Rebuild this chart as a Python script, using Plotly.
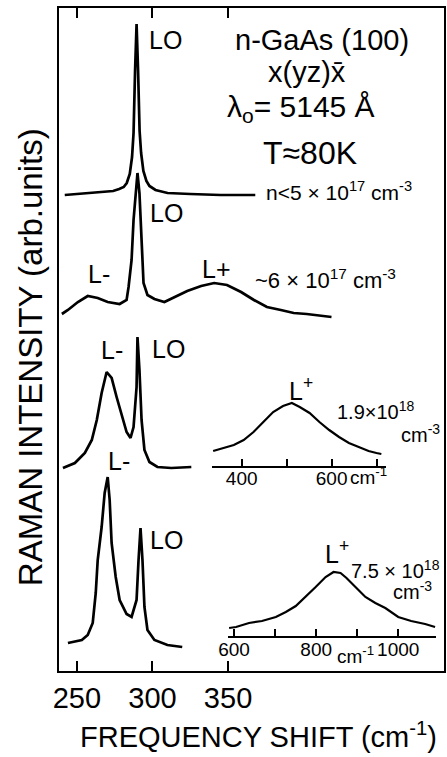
import plotly.graph_objects as go

# ---------------- data ----------------
# main axis: frequency shift (cm^-1); intensity in arbitrary units (offset stacked)
s1_x = [242, 250, 260, 268, 274, 278, 281, 283, 285, 286.5, 287.5, 288.5, 289.5,
        290.5, 291.5, 292.5, 294, 296, 298, 302, 310, 325, 345, 368]
s1_y = [476, 477, 478, 479, 480, 482, 484, 488, 497, 514, 538, 600, 647,
        600, 540, 518, 500, 490, 485, 481, 478, 477, 476, 476]

s2_x = [240.1, 244.1, 250.7, 257.2, 263.8, 270.4, 278.3, 282.9, 284.2, 286.2, 287.5,
        289.5, 290.1, 291.4, 292.8, 294.1, 296.7, 301.3, 307.9, 314.5, 323.0, 332.2,
        340.8, 349.3, 358.6, 367.1, 375.7, 384.9, 393.4, 402.0, 418.4]
s2_y = [357, 361, 369, 375, 373, 369, 367, 371, 384, 411, 451,
        491, 498, 478, 428, 388, 376, 372, 369, 374, 380, 385,
        388, 386, 379, 371, 364, 361, 358, 357, 354]

s3_x = [240.8, 248.7, 255.3, 259.9, 263.2, 266.4, 269.7, 273.0, 276.3, 279.6, 282.9,
        285.5, 287.5, 289.5, 290.1, 291.4, 292.8, 294.7, 298.0, 303.3, 312.5, 325.7]
s3_y = [203, 208, 218, 231, 251, 278, 299, 293, 274, 256, 239,
        233, 244, 284, 334, 301, 251, 221, 209, 204, 203, 204]

s4_x = [244.1, 253.3, 257.2, 260.5, 262.5, 263.8, 266.4, 268.4, 270.4, 271.7, 273.0,
        275.7, 278.3, 282.9, 286.2, 289.5, 290.8, 292.1, 293.4, 294.7, 296.7, 301.3,
        309.9, 319.7]
s4_y = [28, 31, 36, 48, 78, 111, 144, 178, 194, 171, 128,
        94, 71, 57, 54, 71, 111, 143, 111, 64, 41, 31,
        26, 24]

# inset for 1.9e18 cm^-3 (L+ band)
i1_x = [336.5, 360.6, 382.5, 404.4, 426.3, 448.1, 470.0, 491.9, 511.6, 529.1, 551.0,
        572.9, 594.7, 616.6, 638.5, 660.4, 682.3, 699.8, 710.7]
i1_y = [220, 223, 226, 231, 239, 249, 259, 265, 268, 264, 258,
        249, 241, 234, 228, 224, 220, 218, 217]

# inset for 7.5e18 cm^-3 (L+ band)
i2_x = [587.9, 604.8, 636.4, 667.9, 701.8, 726.1, 750.3, 774.5, 798.8, 823.0, 842.4,
        859.4, 873.9, 895.8, 920.0, 944.2, 968.5, 1000, 1031.5, 1065.5, 1089.7]
i2_y = [43, 44, 48, 50, 54, 59, 65, 74, 84, 94, 99,
        98, 93, 84, 74, 68, 63, 54, 50, 47, 44]

main_ticks = [250, 300, 350]
main_ticktext = ["250", "300", "350"]
i1_ticks = [400, 500, 600, 700]
i1_ticktext = ["400", "", "600", ""]
i2_ticks = [600, 700, 800, 900, 1000]
i2_ticktext = ["600", "", "800", "", "1000"]

# ---------------- layout helpers ----------------
W, H = 447, 757
L, R, T, B = 59, 1, 8, 86
PW, PH = W - L - R, H - T - B
FONT = "Liberation Sans, Arial, sans-serif"


def px(x):
    return (x - L) / PW


def py(y):
    return (H - B - y) / PH


line = dict(color="black", width=2.7)
fig = go.Figure()
for xs, ys in [(s1_x, s1_y), (s2_x, s2_y), (s3_x, s3_y), (s4_x, s4_y)]:
    fig.add_trace(go.Scatter(x=xs, y=ys, mode="lines", line=line,
                             xaxis="x", yaxis="y", showlegend=False, hoverinfo="skip"))
fig.add_trace(go.Scatter(x=i1_x, y=i1_y, mode="lines", line=dict(color="black", width=2.2),
                         xaxis="x2", yaxis="y", showlegend=False, hoverinfo="skip"))
fig.add_trace(go.Scatter(x=i2_x, y=i2_y, mode="lines", line=dict(color="black", width=2.2),
                         xaxis="x3", yaxis="y", showlegend=False, hoverinfo="skip"))

fig.update_layout(
    width=W, height=H,
    margin=dict(l=L, r=R, t=T, b=B, pad=0),
    paper_bgcolor="white", plot_bgcolor="rgba(0,0,0,0)",
    font=dict(family=FONT, color="black"),
    xaxis=dict(range=[238.2, 492.8], domain=[0, 1], showgrid=False, zeroline=False,
               showline=True, linecolor="black", linewidth=2, mirror="ticks",
               ticks="inside", ticklen=10, tickwidth=1.6, tickcolor="black",
               tickvals=main_ticks, ticktext=main_ticktext,
               tickfont=dict(size=29, family=FONT)),
    yaxis=dict(range=[0, 663], domain=[0, 1], showgrid=False, zeroline=False,
               showline=True, linecolor="black", linewidth=2, mirror=True,
               ticks="", showticklabels=False),
    xaxis2=dict(range=[334.4, 721.7], domain=[px(213), px(388)], anchor="free",
                position=py(467), showgrid=False, zeroline=False,
                showline=True, linecolor="black", linewidth=1.6,
                ticks="inside", ticklen=7, tickwidth=1.5, tickcolor="black",
                tickvals=i1_ticks, ticktext=i1_ticktext, ticklabelstandoff=-6,
                tickfont=dict(size=19, family=FONT)),
    xaxis3=dict(range=[585.5, 1092.1], domain=[px(229), px(438)], anchor="free",
                position=py(637), showgrid=False, zeroline=False,
                showline=True, linecolor="black", linewidth=1.6,
                ticks="inside", ticklen=7, tickwidth=1.5, tickcolor="black",
                tickvals=i2_ticks, ticktext=i2_ticktext, ticklabelstandoff=-5,
                tickfont=dict(size=19, family=FONT)),
)

notes = [
    ("LO", 166, 40, 25, 0),
    ("n-GaAs (100)", 323, 40, 29, 0),
    ("x(yz)x\u0304", 308, 72, 29, 0),
    ("λ<sub>o</sub>= 5145 Å", 302, 108, 30, 0),
    ("T≈80K", 311, 153, 32, 0),
    ("n<5 × 10<sup>17</sup> cm<sup>-3</sup>", 340, 191, 21, 0),
    ("LO", 167, 213, 25, 0),
    ("L-", 99, 274, 25, 0),
    ("L+", 217, 269, 25, 0),
    ("~6 × 10<sup>17</sup> cm<sup>-3</sup>", 327, 279, 22, 0),
    ("L-", 112, 350, 25, 0),
    ("LO", 169, 349, 25, 0),
    ("L<sup>+</sup>", 302, 389, 25, 0),
    ("1.9×10<sup>18</sup>", 378, 410, 20, 0),
    ("cm<sup>-3</sup>", 422, 434, 20, 0),
    ("L-", 119, 461, 25, 0),
    ("LO", 167, 540, 25, 0),
    ("L<sup>+</sup>", 338, 552, 25, 0),
    ("7.5 × 10<sup>18</sup>", 397, 569, 20, 0),
    ("cm<sup>-3</sup>", 414, 590, 20, 0),
    ("cm<sup>-1</sup>", 370, 476, 19, 0),
    ("cm<sup>-1</sup>", 357, 655, 19, 0),
    ("FREQUENCY SHIFT (cm<sup>-1</sup>)", 260, 735, 29, 0),
    ("RAMAN INTENSITY (arb.units)", 30, 357, 33, -90),
]
for text, x, y, size, ang in notes:
    fig.add_annotation(text=text, x=px(x), y=py(y), xref="paper", yref="paper",
                       xanchor="center", yanchor="middle", showarrow=False,
                       textangle=ang, font=dict(size=size, family=FONT, color="black"))

fig.write_html("out.html")
